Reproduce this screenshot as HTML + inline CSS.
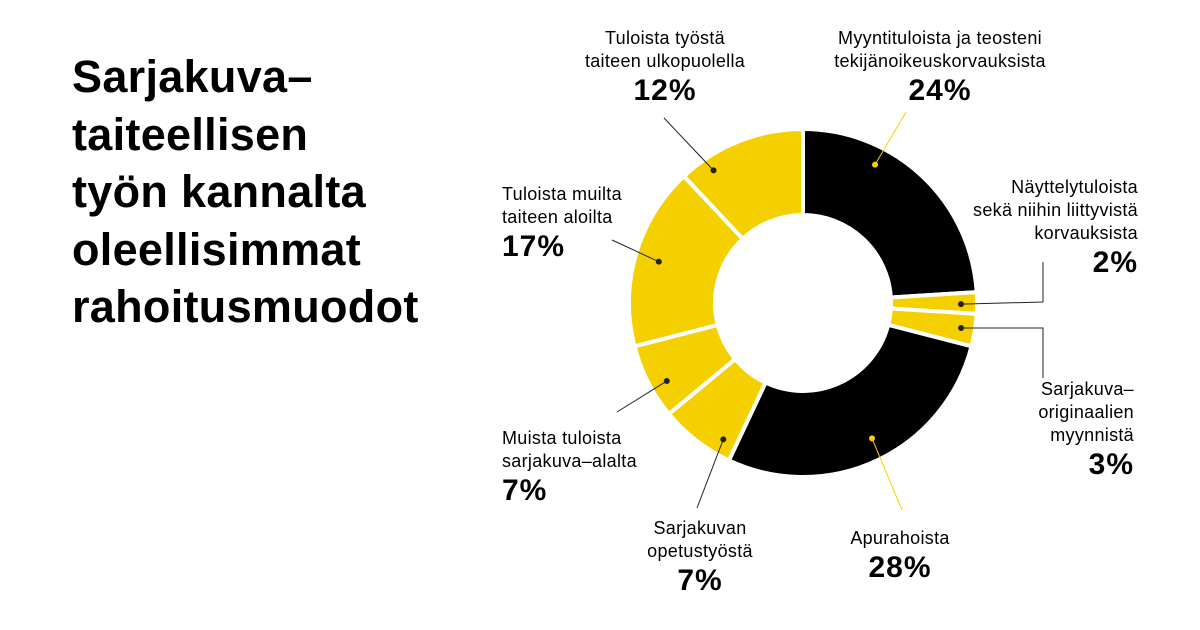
<!DOCTYPE html>
<html><head><meta charset="utf-8">
<style>
body{margin:0;width:1200px;height:630px;background:#fff;font-family:"Liberation Sans",sans-serif;overflow:hidden;position:relative}
#title{position:absolute;left:72px;top:48px;font-size:45px;font-weight:bold;line-height:57.5px;color:#000;letter-spacing:0.3px}
.lbl{position:absolute;font-size:18px;line-height:23px;color:#000;letter-spacing:0.3px}
.pct{font-size:30px;font-weight:bold;line-height:36px;letter-spacing:1px}
svg{position:absolute;left:0;top:0}
</style></head><body>
<div id="title">Sarjakuva–<br>taiteellisen<br>työn kannalta<br>oleellisimmat<br>rahoitusmuodot</div>
<svg id="chart" width="1200" height="630"></svg>
<div class="lbl" style="left:540px;top:27px;width:250px;text-align:center">Tuloista työstä<br>taiteen ulkopuolella<div class="pct">12%</div></div>
<div class="lbl" style="left:790px;top:27px;width:300px;text-align:center">Myyntituloista ja teosteni<br>tekijänoikeuskorvauksista<div class="pct">24%</div></div>
<div class="lbl" style="left:900px;top:176px;width:238px;text-align:right">Näyttelytuloista<br>sekä niihin liittyvistä<br>korvauksista<div class="pct">2%</div></div>
<div class="lbl" style="left:940px;top:378px;width:194px;text-align:right">Sarjakuva–<br>originaalien<br>myynnistä<div class="pct">3%</div></div>
<div class="lbl" style="left:815px;top:527px;width:170px;text-align:center">Apurahoista<div class="pct">28%</div></div>
<div class="lbl" style="left:610px;top:517px;width:180px;text-align:center">Sarjakuvan<br>opetustyöstä<div class="pct">7%</div></div>
<div class="lbl" style="left:502px;top:427px;width:220px">Muista tuloista<br>sarjakuva–alalta<div class="pct">7%</div></div>
<div class="lbl" style="left:502px;top:183px;width:220px">Tuloista muilta<br>taiteen aloilta<div class="pct">17%</div></div>
<script>
const categories=["Myyntituloista","Näyttelytuloista","Originaalit","Apurahoista","Opetus","Muista sarjakuva","Muilta taiteen","Ulkopuolella"];
const values=[24,2,3,28,7,7,17,12];
const colors=["#000","#f5d000","#f5d000","#000","#f5d000","#f5d000","#f5d000","#f5d000"];
const dotAngleOffsetDeg=[-15.7,0.4,0,-1.8,-7.5,-2.8,-0.2,-12.4];
const dotRadius=[156,158,160,152,158,157,150,160];
const leaderEnds=[[[906,112]],[[1043,302],[1043,262]],[[1043,328],[1043,378]],[[902,510]],[[697,508]],[[617,412]],[[612,240]],[[664,118]]];
const svg=document.getElementById('chart');const NS="http://www.w3.org/2000/svg";
const cx=803,cy=303,R=174,r=88;
const total=values.reduce((a,b)=>a+b,0);
function pt(a,rad){return [cx+rad*Math.sin(a),cy-rad*Math.cos(a)];}
let acc=0;
values.forEach((v,i)=>{
 const a0=acc/total*2*Math.PI,a1=(acc+v)/total*2*Math.PI;acc+=v;
 const large=(a1-a0)>Math.PI?1:0;
 const p0=pt(a0,R),p1=pt(a1,R),q1=pt(a1,r),q0=pt(a0,r);
 const p=document.createElementNS(NS,'path');
 p.setAttribute('d',`M${p0[0]},${p0[1]}A${R},${R} 0 ${large} 1 ${p1[0]},${p1[1]}L${q1[0]},${q1[1]}A${r},${r} 0 ${large} 0 ${q0[0]},${q0[1]}Z`);
 p.setAttribute('fill',colors[i]);p.setAttribute('stroke','#fff');p.setAttribute('stroke-width','4');
 
 
 svg.appendChild(p);
});
acc=0;
values.forEach((v,i)=>{
 const am=(acc+v/2)/total*2*Math.PI+dotAngleOffsetDeg[i]*Math.PI/180;acc+=v;
 const d=pt(am,dotRadius[i]);const lc=colors[i]==="#000"?"#f5d000":"#222";
 const pts=[d].concat(leaderEnds[i]);
 const l=document.createElementNS(NS,'polyline');
 l.setAttribute('points',pts.map(q=>q.join(',')).join(' '));
 l.setAttribute('fill','none');l.setAttribute('stroke',lc);l.setAttribute('stroke-width','1');
 
 
 svg.appendChild(l);
 const c=document.createElementNS(NS,'circle');
 c.setAttribute('cx',d[0]);c.setAttribute('cy',d[1]);c.setAttribute('r',3);c.setAttribute('fill',lc);
 
 
 svg.appendChild(c);
});
</script>
</body></html>
